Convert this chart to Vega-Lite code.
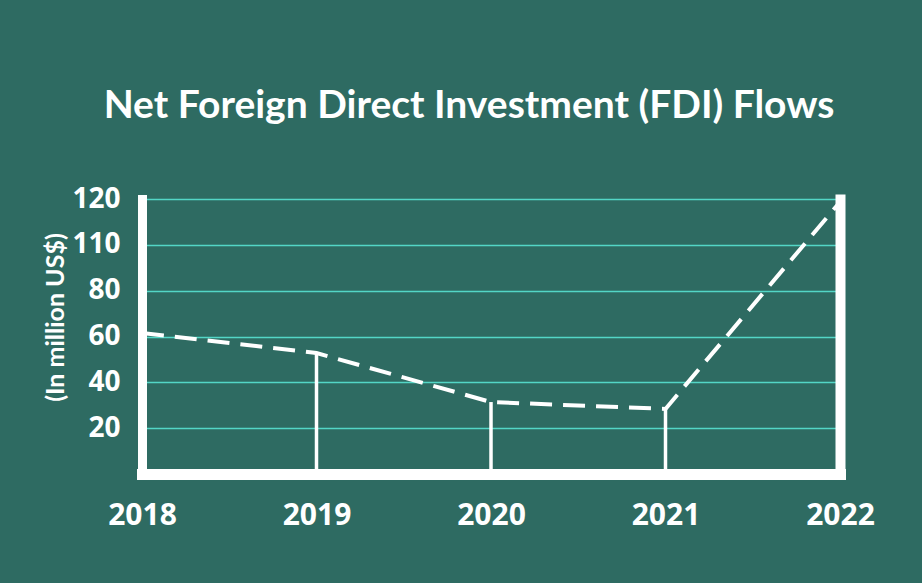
{
  "$schema": "https://vega.github.io/schema/vega-lite/v6.json",
  "autosize": "none",
  "width": 698,
  "height": 275,
  "padding": {"left": 142, "top": 199, "right": 82, "bottom": 109},
  "background": "#2e6b62",
  "data": {
    "values": [
      {"year": "2018", "fdi": 61.5},
      {"year": "2019", "fdi": 52.8},
      {"year": "2020", "fdi": 31.4},
      {"year": "2021", "fdi": 28.4},
      {"year": "2022", "fdi": 118.7}
    ]
  },
  "title": {
    "text": "Net Foreign Direct Investment (FDI) Flows",
    "frame": "group",
    "anchor": "middle",
    "baseline": "alphabetic",
    "offset": 28,
    "dx": -22,
    "font": "Lato",
    "fontSize": 39,
    "fontWeight": "bold",
    "color": "#ffffff"
  },
  "config": {
    "view": {"stroke": null},
    "axis": {"domainCap": "square"}
  },
  "encoding": {
    "x": {
      "field": "year",
      "type": "ordinal",
      "scale": {"type": "point", "padding": 0},
      "axis": {
        "title": null,
        "labelAngle": 0,
        "labelFont": "Open Sans",
        "labelFontWeight": "bold",
        "labelFontSize": 30,
        "labelColor": "#ffffff",
        "labelPadding": 26,
        "ticks": false,
        "tickSize": 0,
        "domainColor": "#ffffff",
        "domainWidth": 11,
        "grid": false
      }
    }
  },
  "layer": [
    {
      "mark": {"type": "line", "color": "#ffffff", "strokeWidth": 4, "strokeDash": [22, 11], "strokeCap": "butt"},
      "encoding": {
        "y": {
          "field": "fdi",
          "type": "quantitative",
          "scale": {"domain": [0, 120], "nice": false, "zero": true},
          "axis": {
            "orient": "left",
            "values": [20, 40, 60, 80, 100, 120],
            "labelExpr": "datum.value == 100 ? '110' : datum.label",
            "labelFont": "Open Sans",
            "labelFontWeight": "bold",
            "labelFontSize": 28,
            "labelColor": "#ffffff",
            "labelPadding": 22,
            "labelBaseline": "middle",
            "ticks": false,
            "tickSize": 0,
            "domainColor": "#ffffff",
            "domainWidth": 9,
            "grid": true,
            "gridColor": "#55dccb",
            "gridWidth": 1.5,
            "gridOpacity": 0.95,
            "title": "(In million US$)",
            "titleFont": "Lato",
            "titleFontWeight": "bold",
            "titleFontSize": 25,
            "titleColor": "#ffffff",
            "titleAngle": -90,
            "titleAlign": "center",
            "titleBaseline": "middle",
            "titleX": -87,
            "titleY": 118
          }
        }
      }
    },
    {
      "transform": [{"filter": "datum.year != '2018' && datum.year != '2022'"}],
      "mark": {"type": "rule", "color": "#ffffff", "strokeWidth": 3.5},
      "encoding": {
        "y": {
          "field": "fdi",
          "type": "quantitative",
          "axis": {
            "orient": "right",
            "labels": false,
            "ticks": false,
            "grid": false,
            "title": null,
            "domainColor": "#ffffff",
            "domainWidth": 10
          }
        },
        "y2": {"datum": 0}
      }
    }
  ],
  "resolve": {"axis": {"y": "independent"}}
}
